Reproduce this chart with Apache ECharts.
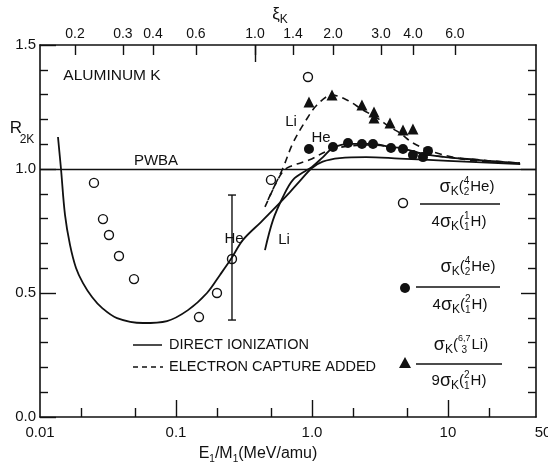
<!DOCTYPE html>
<html>
<head>
<meta charset="utf-8">
<script src="https://cdn.jsdelivr.net/npm/echarts@6/dist/echarts.min.js"></script>
<style>
  html, body { margin: 0; padding: 0; background: #ffffff; }
  #chart { width: 548px; height: 466px; }
</style>
</head>
<body>
<div id="chart"></div>
<script>
// ---- axes (E1/M1 in MeV/amu, R2K ratio) ----
const X_MIN = 0.01;
const X_FRAME_MAX = 44.4;          // right edge of the frame
const X_LABEL_MAX = 50;            // last bottom label sits just past the frame
const xMajorTicks = [0.1, 1, 10];
const xMinorTicks = [0.02, 0.05, 0.2, 0.5, 2, 5, 20];
const xTickValues = [0.01, 0.1, 1, 10, 50];
const xTickLabels = ['0.01', '0.1', '1.0', '10', '50'];

// top scale: reduced velocity xi_K, placed at the matching E1/M1
const xiLabels = ['0.2', '0.3', '0.4', '0.6', '1.0', '1.4', '2.0', '3.0', '4.0', '6.0'];
const xiAtE = [0.0181, 0.0407, 0.0678, 0.140, 0.381, 0.725, 1.43, 3.22, 5.53, 11.25];
const xiLongTick = [0.381];

const Y_MIN = 0, Y_MAX = 1.5;
const yMajorTicks = [0, 0.5, 1.0, 1.5];
const yTickLabels = ['0.0', '0.5', '1.0', '1.5'];
const yMinorTicks = [0.1, 0.2, 0.3, 0.4, 0.6, 0.7, 0.8, 0.9, 1.1, 1.2, 1.3, 1.4];
const yRightMajor = [0.5, 1.0];
const PWBA_LEVEL = 1.0;

// ---- measured ratios ----
// sigma_K(4He) / 4 sigma_K(1H)
const heHE = [0.02494, 0.02905, 0.03215, 0.03809, 0.04912, 0.1476, 0.2002, 0.2581, 0.4994, 0.9346];
const heHR = [0.944, 0.798, 0.734, 0.649, 0.556, 0.403, 0.500, 0.637, 0.956, 1.371];
// error bar on the 0.26 MeV/amu point
const errE = [0.2581];
const errLow = [0.391];
const errHigh = [0.895];
// sigma_K(4He) / 4 sigma_K(2H)
const heDE = [0.9504, 1.427, 1.84, 2.331, 2.809, 3.81, 4.669, 5.527, 6.55, 7.129];
const heDR = [1.081, 1.089, 1.105, 1.101, 1.101, 1.085, 1.081, 1.056, 1.048, 1.073];
// sigma_K(6,7Li) / 9 sigma_K(2H)
const liE = [0.9504, 1.403, 2.331, 2.857, 2.857, 3.746, 4.669, 5.527];
const liR = [1.270, 1.298, 1.258, 1.230, 1.206, 1.185, 1.157, 1.161];

// ---- theory ----
// direct ionization, He
const diHeE = [0.01356, 0.01427, 0.01527, 0.01662, 0.0184, 0.02071, 0.02413, 0.02857, 0.03683, 0.0572, 0.0859,
               0.1225, 0.169, 0.2106, 0.2537, 0.3109, 0.4217, 0.5166, 0.689, 0.8162, 1.0, 1.2, 1.6, 2.5, 4.4, 10, 34];
const diHeR = [1.129, 1.0, 0.815, 0.694, 0.601, 0.540, 0.484, 0.440, 0.399, 0.379, 0.387,
               0.431, 0.500, 0.573, 0.637, 0.714, 0.786, 0.835, 0.907, 0.952, 1.004, 1.03, 1.044, 1.048, 1.042, 1.033, 1.02];
// direct ionization, Li
const diLiE = [0.4512, 0.5166, 0.6119, 0.7249, 0.9187, 1.0, 1.205, 1.427, 1.903, 2.809, 3.746, 4.437, 7.375, 17.19, 33.83];
const diLiR = [0.673, 0.794, 0.887, 0.956, 0.996, 1.008, 1.048, 1.085, 1.101, 1.101, 1.089, 1.085, 1.056, 1.036, 1.024];
// electron capture added, He
const ecHeE = [0.4748, 0.5343, 0.6119, 0.689, 0.9504, 1.356, 1.903, 2.809, 4.437, 7.375, 17.19, 33.83];
const ecHeR = [0.875, 0.935, 0.99, 1.01, 1.036, 1.077, 1.093, 1.097, 1.081, 1.056, 1.036, 1.024];
// electron capture added, Li
const ecLiE = [0.4512, 0.5343, 0.6119, 0.7249, 0.8882, 1.088, 1.403, 1.809, 2.371, 3.006, 3.746, 4.437, 5.527, 7.757, 14.52, 33.83];
const ecLiR = [0.847, 0.935, 1.004, 1.105, 1.19, 1.258, 1.298, 1.278, 1.238, 1.206, 1.169, 1.145, 1.105, 1.069, 1.036, 1.024];

// ---- drawing ----
const INK = '#111111';
const FONT = 'Liberation Sans';
const lg = Math.log10;
const pairs = (E, R) => E.map((e, i) => [lg(e), R[i]]);
const near = (arr, v) => arr.findIndex(a => Math.abs(a - v) < 1e-6);

const measure = document.createElement('canvas').getContext('2d');
function textWidth(t, size) {
  measure.font = size + 'px "' + FONT + '"';
  return measure.measureText(t).width;
}
// lays out a run of text pieces (sub/superscripts, stacked indices) centred on cx
function formula(tokens, cx, cy) {
  let w = 0;
  const pieces = [];
  tokens.forEach(tok => {
    if (tok.stack) {
      let mw = 0;
      tok.stack.forEach(([t, s, dy]) => { mw = Math.max(mw, textWidth(t, s)); });
      tok.stack.forEach(([t, s, dy]) => { pieces.push({ t, s, dy, x: w + (mw - textWidth(t, s)) / 2 }); });
      w += mw + 1;
    } else {
      const [t, s, dy] = tok;
      pieces.push({ t, s, dy, x: w });
      w += textWidth(t, s);
    }
  });
  return pieces.map(p => ({
    type: 'text', silent: true, z: 100,
    x: cx - w / 2 + p.x, y: cy + p.dy,
    style: { text: p.t, fontSize: p.s, fontFamily: FONT, fill: INK, align: 'left', verticalAlign: 'middle' }
  }));
}
function label(text, x, y, size) {
  return { type: 'text', silent: true, z: 100, x, y,
    style: { text, fontSize: size, fontFamily: FONT, fill: INK, align: 'center', verticalAlign: 'middle' } };
}
function hline(x1, x2, y, dash) {
  return { type: 'line', silent: true, z: 100, shape: { x1, y1: y, x2, y2: y },
    style: { stroke: INK, lineWidth: 1.5, lineDash: dash || null } };
}

const sig = [['σ', 18, 0], ['K', 12, 5], ['(', 15, 0]];
const fracHeH1 = {
  num: sig.concat([{ stack: [['4', 10, -6], ['2', 10, 5]] }, ['He)', 15, 0]]),
  den: [['4', 15, 0]].concat(sig, [{ stack: [['1', 10, -6], ['1', 10, 5]] }, ['H)', 15, 0]])
};
const fracHeH2 = {
  num: sig.concat([{ stack: [['4', 10, -6], ['2', 10, 5]] }, ['He)', 15, 0]]),
  den: [['4', 15, 0]].concat(sig, [{ stack: [['2', 10, -6], ['1', 10, 5]] }, ['H)', 15, 0]])
};
const fracLiH2 = {
  num: sig.concat([{ stack: [['6,7', 9, -6], ['3', 10, 5]] }, ['Li)', 15, 0]]),
  den: [['9', 15, 0]].concat(sig, [{ stack: [['2', 10, -6], ['1', 10, 5]] }, ['H)', 15, 0]])
};

const graphics = [
  label('ALUMINUM K', 112, 76, 15.5),
  label('PWBA', 156, 161, 15),
  label('He', 234, 239, 15),
  label('He', 321, 138, 15),
  label('Li', 291, 122, 15),
  label('Li', 284, 240, 15),
  ...formula([['R', 17, 0]], 16, 128),
  ...formula([['2K', 12, 0]], 27, 140),
  ...formula([['ξ', 17, 0], ['K', 12, 6]], 280, 14),
  ...formula([['E', 16, 0], ['1', 10, 5], ['/', 16, 0], ['M', 16, 0], ['1', 10, 5], ['(MeV/amu)', 16, 0]], 258, 454),
  // line-style key
  hline(133, 162, 345),
  hline(133, 163, 367, [5, 4]),
  { type: 'text', silent: true, z: 100, x: 169, y: 345,
    style: { text: 'DIRECT IONIZATION', fontSize: 14.5, fontFamily: FONT, fill: INK, align: 'left', verticalAlign: 'middle' } },
  { type: 'text', silent: true, z: 100, x: 169, y: 367,
    style: { text: 'ELECTRON CAPTURE ADDED', fontSize: 14.5, fontFamily: FONT, fill: INK, align: 'left', verticalAlign: 'middle' } },
  // symbol key with the ratio each symbol stands for
  { type: 'circle', silent: true, z: 100, shape: { cx: 403, cy: 203, r: 4.5 },
    style: { fill: '#fff', stroke: INK, lineWidth: 1.4 } },
  ...formula(fracHeH1.num, 467, 187),
  hline(420, 500, 204),
  ...formula(fracHeH1.den, 459, 222),
  { type: 'circle', silent: true, z: 100, shape: { cx: 405, cy: 288, r: 5 }, style: { fill: INK } },
  ...formula(fracHeH2.num, 468, 267),
  hline(416, 500, 287),
  ...formula(fracHeH2.den, 460, 305),
  { type: 'polygon', silent: true, z: 100, shape: { points: [[405, 357], [411, 368], [399, 368]] }, style: { fill: INK } },
  ...formula(fracLiH2.num, 461, 345),
  hline(416, 502, 364),
  ...formula(fracLiH2.den, 459, 381)
];

const axisLineStyle = { color: INK, width: 1.6 };
const tickStyle = { color: INK, width: 1.4 };
const labelStyle = { color: INK, fontFamily: FONT };
const ticks = (len, values) => ({ show: true, inside: true, length: len, customValues: values, lineStyle: tickStyle });
const noLabel = { show: false };
const noSplit = { show: false };

const chart = echarts.init(document.getElementById('chart'), null, { renderer: 'canvas' });
chart.setOption({
  animation: false,
  backgroundColor: '#ffffff',
  grid: [
    { left: 40, top: 45, width: 496, height: 372, outerBoundsMode: 'none', containLabel: false },
    { left: 40, top: 45, width: 503, height: 372, outerBoundsMode: 'none', containLabel: false }
  ],
  xAxis: [
    { gridIndex: 0, type: 'value', position: 'bottom', min: lg(X_MIN), max: lg(X_FRAME_MAX),
      axisLine: { show: true, onZero: false, lineStyle: axisLineStyle },
      axisTick: ticks(17, xMajorTicks.map(lg)), axisLabel: noLabel, splitLine: noSplit },
    { gridIndex: 0, type: 'value', position: 'bottom', min: lg(X_MIN), max: lg(X_FRAME_MAX),
      axisLine: { show: false, onZero: false },
      axisTick: ticks(9, xMinorTicks.map(lg)), axisLabel: noLabel, splitLine: noSplit },
    { gridIndex: 0, type: 'value', position: 'top', min: lg(X_MIN), max: lg(X_FRAME_MAX),
      axisLine: { show: true, onZero: false, lineStyle: axisLineStyle },
      axisTick: ticks(10, xiAtE.map(lg)),
      axisLabel: { show: true, customValues: xiAtE.map(lg), margin: 4, fontSize: 14, ...labelStyle,
        formatter: v => { const i = near(xiAtE.map(lg), v); return i >= 0 ? xiLabels[i] : ''; } },
      splitLine: noSplit },
    { gridIndex: 0, type: 'value', position: 'top', min: lg(X_MIN), max: lg(X_FRAME_MAX),
      axisLine: { show: false, onZero: false },
      axisTick: ticks(17, xiLongTick.map(lg)), axisLabel: noLabel, splitLine: noSplit },
    { gridIndex: 1, type: 'value', position: 'bottom', min: lg(X_MIN), max: lg(X_LABEL_MAX),
      axisLine: { show: false, onZero: false }, axisTick: { show: false },
      axisLabel: { show: true, customValues: xTickValues.map(lg), margin: 8, fontSize: 15, ...labelStyle,
        formatter: v => { const i = near(xTickValues.map(lg), v); return i >= 0 ? xTickLabels[i] : ''; } },
      splitLine: noSplit }
  ],
  yAxis: [
    { gridIndex: 0, type: 'value', position: 'left', min: Y_MIN, max: Y_MAX,
      axisLine: { show: true, onZero: false, lineStyle: axisLineStyle },
      axisTick: ticks(16, yMajorTicks),
      axisLabel: { show: true, customValues: yMajorTicks, margin: 4, fontSize: 15, ...labelStyle,
        formatter: v => { const i = near(yMajorTicks, v); return i >= 0 ? yTickLabels[i] : ''; } },
      splitLine: noSplit },
    { gridIndex: 0, type: 'value', position: 'left', min: Y_MIN, max: Y_MAX,
      axisLine: { show: false, onZero: false },
      axisTick: ticks(8, yMinorTicks), axisLabel: noLabel, splitLine: noSplit },
    { gridIndex: 0, type: 'value', position: 'right', min: Y_MIN, max: Y_MAX,
      axisLine: { show: true, onZero: false, lineStyle: axisLineStyle },
      axisTick: ticks(8, yMinorTicks), axisLabel: noLabel, splitLine: noSplit },
    { gridIndex: 0, type: 'value', position: 'right', min: Y_MIN, max: Y_MAX,
      axisLine: { show: false, onZero: false },
      axisTick: ticks(15, yRightMajor), axisLabel: noLabel, splitLine: noSplit },
    { gridIndex: 1, type: 'value', min: Y_MIN, max: Y_MAX, show: false, splitLine: noSplit }
  ],
  series: [
    { name: 'direct He', type: 'line', xAxisIndex: 0, yAxisIndex: 0, data: pairs(diHeE, diHeR),
      showSymbol: false, smooth: 0.35, lineStyle: { color: INK, width: 1.8 }, silent: true,
      markLine: { silent: true, symbol: 'none', label: { show: false },
        lineStyle: { color: INK, width: 1.3, type: 'solid' }, data: [{ yAxis: PWBA_LEVEL }] } },
    { name: 'direct Li', type: 'line', xAxisIndex: 0, yAxisIndex: 0, data: pairs(diLiE, diLiR),
      showSymbol: false, smooth: 0.35, lineStyle: { color: INK, width: 1.8 }, silent: true },
    { name: 'capture He', type: 'line', xAxisIndex: 0, yAxisIndex: 0, data: pairs(ecHeE, ecHeR),
      showSymbol: false, smooth: 0.35, lineStyle: { color: INK, width: 1.6, type: [7, 5] }, silent: true },
    { name: 'capture Li', type: 'line', xAxisIndex: 0, yAxisIndex: 0, data: pairs(ecLiE, ecLiR),
      showSymbol: false, smooth: 0.35, lineStyle: { color: INK, width: 1.6, type: [7, 5] }, silent: true },
    { name: 'error', type: 'custom', xAxisIndex: 0, yAxisIndex: 0,
      data: errE.map((e, i) => [lg(e), errLow[i], errHigh[i]]),
      encode: { x: 0, y: [1, 2] }, silent: true,
      renderItem: (params, api) => {
        const x = api.value(0);
        const lo = api.coord([x, api.value(1)]);
        const hi = api.coord([x, api.value(2)]);
        const cap = 4;
        const st = { stroke: INK, lineWidth: 1.4 };
        return { type: 'group', children: [
          { type: 'line', shape: { x1: lo[0], y1: lo[1], x2: hi[0], y2: hi[1] }, style: st },
          { type: 'line', shape: { x1: hi[0] - cap, y1: hi[1], x2: hi[0] + cap, y2: hi[1] }, style: st },
          { type: 'line', shape: { x1: lo[0] - cap, y1: lo[1], x2: lo[0] + cap, y2: lo[1] }, style: st }
        ] };
      } },
    { name: 'He/1H', type: 'scatter', xAxisIndex: 0, yAxisIndex: 0, data: pairs(heHE, heHR),
      symbol: 'circle', symbolSize: 9, silent: true, z: 5,
      itemStyle: { color: 'rgba(255,255,255,0)', borderColor: INK, borderWidth: 1.4, opacity: 1 } },
    { name: 'He/2H', type: 'scatter', xAxisIndex: 0, yAxisIndex: 0, data: pairs(heDE, heDR),
      symbol: 'circle', symbolSize: 10, silent: true, z: 5, itemStyle: { color: INK, opacity: 1 } },
    { name: 'Li/2H', type: 'scatter', xAxisIndex: 0, yAxisIndex: 0, data: pairs(liE, liR),
      symbol: 'triangle', symbolSize: 11, silent: true, z: 5, itemStyle: { color: INK, opacity: 1 } }
  ],
  graphic: graphics
});
</script>
</body>
</html>
